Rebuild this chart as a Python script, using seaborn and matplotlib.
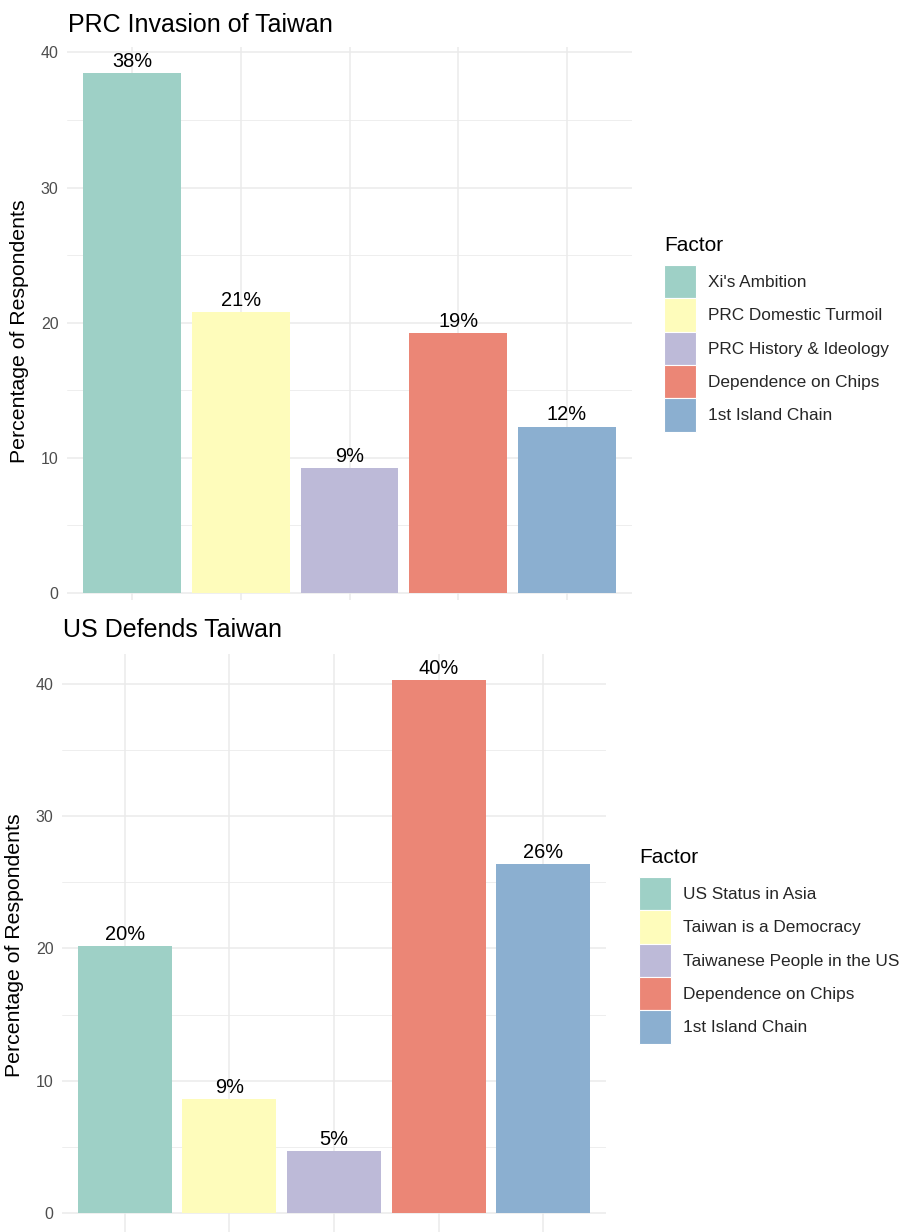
import matplotlib
matplotlib.use("Agg")
import matplotlib.pyplot as plt
from matplotlib.patches import Patch
import seaborn as sns
import pandas as pd

# Survey results: share of respondents naming each factor
invasion_factors = ["Xi's Ambition", "PRC Domestic Turmoil", "PRC History & Ideology",
                    "Dependence on Chips", "1st Island Chain"]
invasion_pct = [38.46, 20.77, 9.23, 19.23, 12.31]

defense_factors = ["US Status in Asia", "Taiwan is a Democracy", "Taiwanese People in the US",
                   "Dependence on Chips", "1st Island Chain"]
defense_pct = [20.2, 8.6, 4.7, 40.3, 26.4]

bar_colors = ["#9ED0C6", "#FEFCBB", "#BDBAD8", "#EB8676", "#8BAFD0"]

sns.set_theme(style="white")
plt.rcParams["font.family"] = ["Liberation Sans", "DejaVu Sans"]

W, H = 909, 1232
fig = plt.figure(figsize=(W / 100, H / 100), dpi=100)


def px_axes(left, top, right, bottom):
    return fig.add_axes([left / W, 1 - bottom / H, (right - left) / W, (bottom - top) / H])


def draw_panel(ax, factors, values, ylim, title, title_xy, ylabel_xy, legend_xy):
    df = pd.DataFrame({"Factor": pd.Categorical(factors, categories=factors, ordered=True),
                       "Pct": values})
    palette = dict(zip(factors, bar_colors))
    sns.barplot(data=df, x="Factor", y="Pct", hue="Factor", palette=palette,
                width=0.9, dodge=False, legend=False, saturation=1, ax=ax, zorder=3)
    for p in ax.patches:
        p.set_edgecolor("none")
    ax.set_xlim(-0.6, len(factors) - 0.4)
    ax.set_ylim(*ylim)
    ax.set_yticks([0, 10, 20, 30, 40])
    ax.set_yticks([5, 15, 25, 35], minor=True)
    ax.set_xticks(range(len(factors)))
    ax.set_xticklabels([""] * len(factors))
    ax.set_xlabel("")
    ax.set_ylabel("")
    ax.grid(True, which="major", color="#EBEBEB", linewidth=1.1, zorder=0)
    ax.grid(True, which="minor", axis="y", color="#EBEBEB", linewidth=0.6, zorder=0)
    ax.tick_params(axis="both", which="both", length=0)
    ax.tick_params(axis="y", pad=6, labelsize=11.5, labelcolor="#4D4D4D")
    for s in ax.spines.values():
        s.set_visible(False)

    for i, v in enumerate(values):
        ax.annotate(f"{v:.0f}%", (i, v), xytext=(0, 4.5), textcoords="offset points",
                    ha="center", va="baseline", fontsize=14.4, color="black")

    fig.text(title_xy[0] / W, 1 - title_xy[1] / H, title, fontsize=18,
             ha="left", va="baseline", color="black")
    fig.text(ylabel_xy[0] / W, 1 - ylabel_xy[1] / H, "Percentage of Respondents",
             rotation=90, fontsize=15.3, ha="center", va="center", color="black")

    # legend: title as its own text, colour keys stacked without gaps below it
    lx, ly = legend_xy
    fig.text(lx / W, 1 - (ly - 14) / H, "Factor", fontsize=15, ha="left",
             va="baseline", color="black")
    handles = [Patch(facecolor=c, edgecolor="white", linewidth=0.8) for c in bar_colors]
    fig.legend(handles, factors, loc="upper left",
               bbox_to_anchor=(lx / W, 1 - ly / H),
               frameon=False, fontsize=12.4,
               handlelength=1.86, handleheight=2.6, handletextpad=0.7,
               labelspacing=0.0, borderpad=0, borderaxespad=0)


ax_top = px_axes(67, 47, 632, 600)
draw_panel(ax_top, invasion_factors, invasion_pct, (-0.52, 40.4),
           "PRC Invasion of Taiwan", (68, 32), (20, 331), (664, 265))

ax_bot = px_axes(62, 654, 606, 1232)
draw_panel(ax_bot, defense_factors, defense_pct, (-1.44, 42.27),
           "US Defends Taiwan", (63, 637), (15, 945), (639, 877))

fig.savefig("out.png", dpi=100, facecolor="white")
